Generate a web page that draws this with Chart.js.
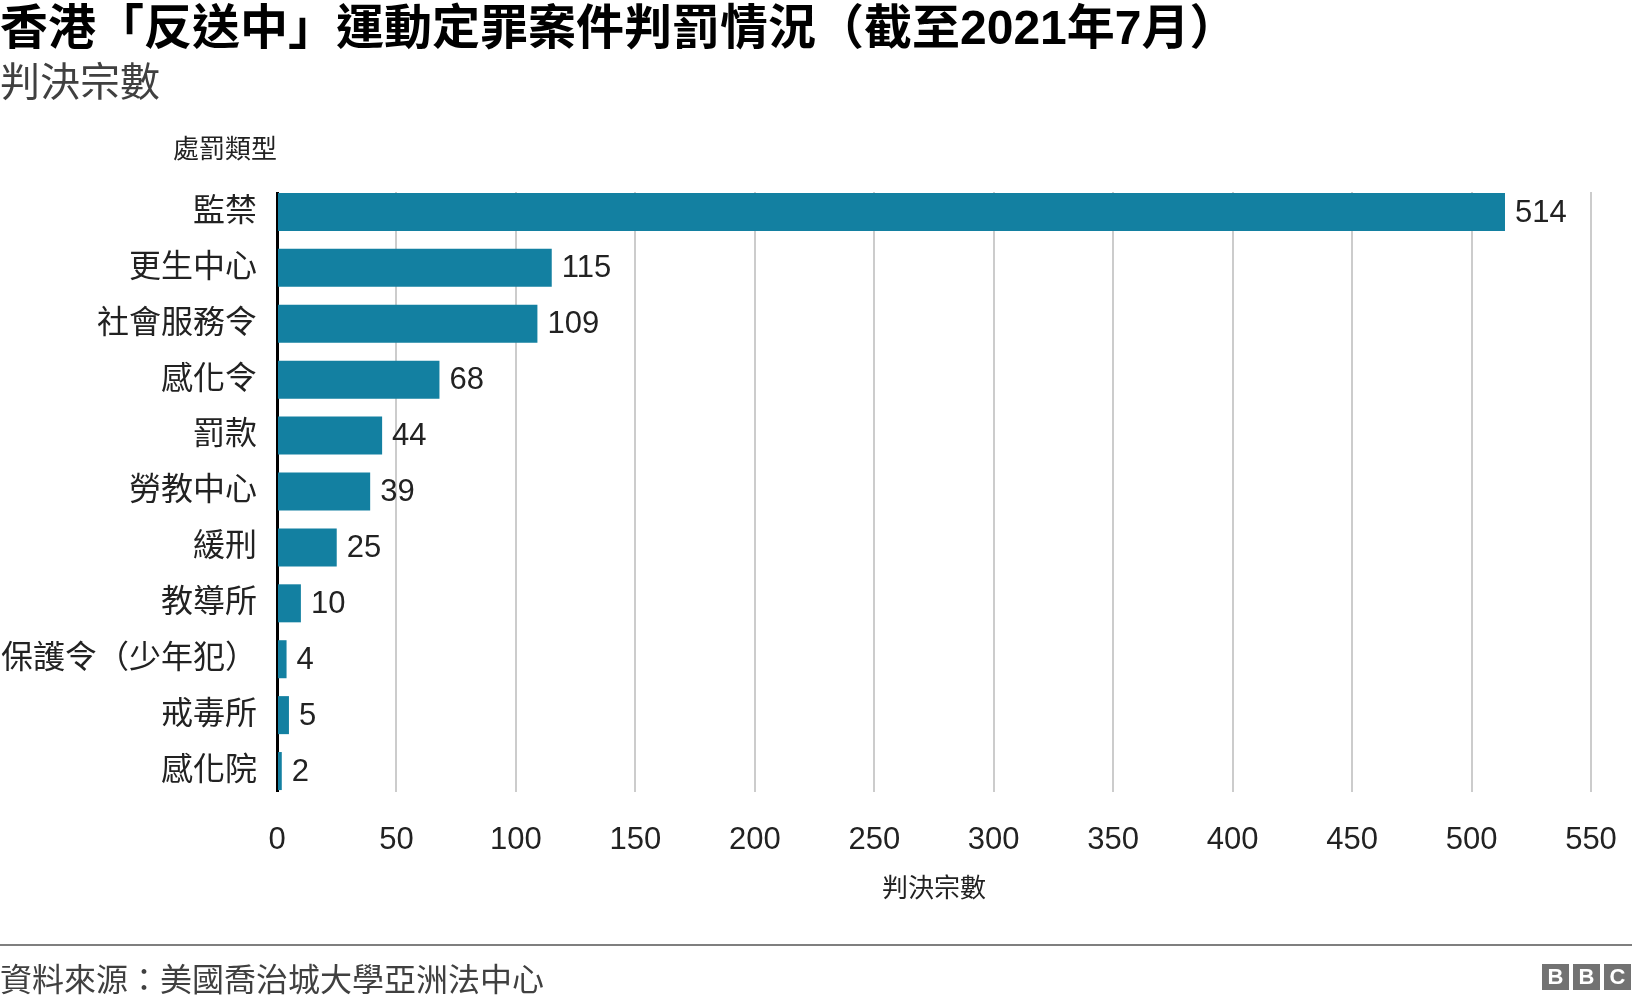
<!DOCTYPE html>
<html><head><meta charset="utf-8">
<script src="https://cdn.jsdelivr.net/npm/chart.js@4/dist/chart.umd.min.js"></script>
<style>
html,body{margin:0;padding:0;background:#fff}
body{width:1632px;height:1002px;position:relative;overflow:hidden;font-family:"Liberation Sans","Noto Sans CJK TC",sans-serif;color:#222}
#wrap{position:absolute;left:0;top:0;width:1632px;height:1002px}
.t{position:absolute;white-space:nowrap;line-height:1}
#title{left:0;top:4px;font-size:48px;font-weight:700;color:#000}
#sub{left:0;top:62px;font-size:40px;color:#404040}
#ytitle{left:173px;top:136px;font-size:26px}
#xtitle{left:934px;top:875px;font-size:26px;transform:translateX(-50%)}
#rule{position:absolute;left:0;top:944px;width:1632px;height:2px;background:#7f7f7f}
#src{left:0;top:964px;font-size:32px;color:#404040}
#bbc{position:absolute;left:1542px;top:964px;display:flex;gap:4px}
#bbc span{display:block;width:27px;height:26px;background:#727272;color:#fff;font:700 22px "Liberation Sans",sans-serif;text-align:center;line-height:26px}
</style></head>
<body>
<div id="wrap"><canvas id="c"></canvas></div>
<div class="t" id="title">香港「反送中」運動定罪案件判罰情況（截至2021年7月）</div>
<div class="t" id="sub">判決宗數</div>
<div class="t" id="ytitle">處罰類型</div>
<div class="t" id="xtitle">判決宗數</div>
<div id="rule"></div>
<div class="t" id="src">資料來源：美國喬治城大學亞洲法中心</div>
<div id="bbc"><span>B</span><span>B</span><span>C</span></div>
<script>
/* data */
const cats=['監禁','更生中心','社會服務令','感化令','罰款','勞教中心','緩刑','教導所','保護令（少年犯）','戒毒所','感化院'];
const vals=[514,115,109,68,44,39,25,10,4,5,2];
const xMin=0, xMax=550, xStep=50;

const FONT='"Liberation Sans","Noto Sans CJK TC",sans-serif';

// gridlines in the original stop just short of the category band: trim their ends
const trimGrid={id:'trimGrid',beforeDatasetsDraw(ch){
  const {ctx,chartArea:a}=ch;ctx.save();ctx.fillStyle='#fff';
  ctx.fillRect(a.left-4,a.top-2,a.right-a.left+8,10);
  ctx.fillRect(a.left-4,a.bottom-7,a.right-a.left+8,9);
  ctx.restore();}};

// numbers at the end of each bar
const valueLabels={id:'valueLabels',afterDatasetsDraw(ch){
  const {ctx}=ch;const meta=ch.getDatasetMeta(0);
  ctx.save();ctx.font='31px '+FONT;ctx.fillStyle='#222';ctx.textAlign='left';ctx.textBaseline='middle';
  meta.data.forEach((b,i)=>ctx.fillText(vals[i],b.x+10,b.y+1));
  ctx.restore();}};

new Chart(document.getElementById('c'),{type:'bar',
  data:{labels:cats,datasets:[{data:vals,backgroundColor:'#1380A1',barPercentage:.68,categoryPercentage:1}]},
  options:{indexAxis:'y',responsive:true,maintainAspectRatio:false,animation:false,
    layout:{padding:{top:184,left:0,right:41,bottom:93}},
    plugins:{legend:{display:false},tooltip:{enabled:false}},
    scales:{
      x:{min:xMin,max:xMax,ticks:{stepSize:xStep,padding:23,color:'#222',font:{family:FONT,size:31},maxRotation:0},
         grid:{color:'#cccccc',lineWidth:2,drawTicks:false},border:{display:false},
         afterFit:s=>{s.height=110;s.paddingLeft=0;s.paddingRight=0}},
      y:{ticks:{padding:20,color:'#222',font:{family:FONT,size:32}},
         grid:{display:false,drawTicks:false},border:{display:true,color:'#000',width:3},
         afterFit:s=>{s.width=277;s.paddingTop=0;s.paddingBottom=0}}
    }},
  plugins:[trimGrid,valueLabels]
});
</script>
</body></html>
